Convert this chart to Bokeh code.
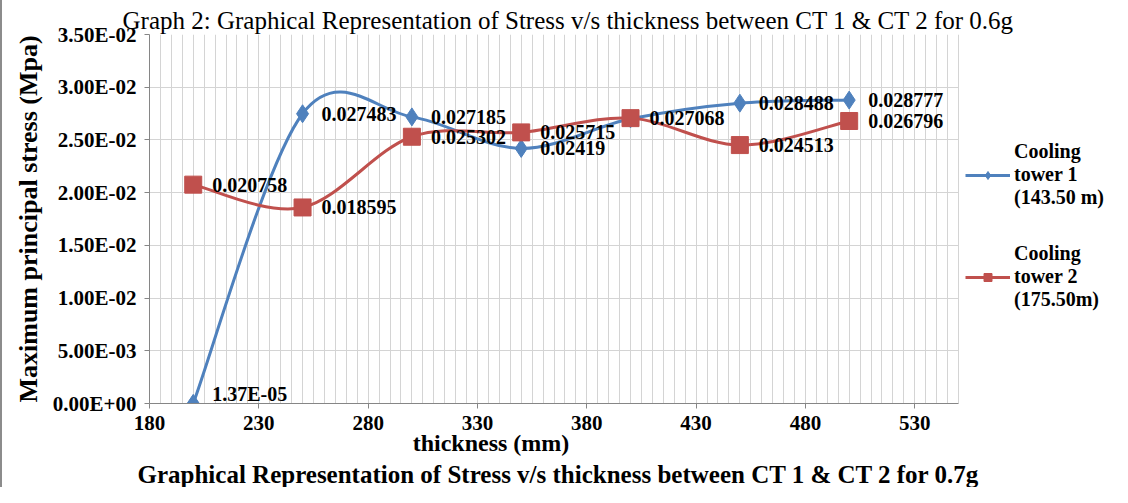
from bokeh.plotting import figure
from bokeh.models import (FixedTicker, Legend, LegendItem, Title, Range1d,
                          ColumnDataSource, LabelSet)
from bokeh.embed import file_html
from bokeh.resources import INLINE

# ---------------- data ----------------
thickness = [200, 250, 300, 350, 400, 450, 500]
ct1_stress = [1.37e-05, 0.027483, 0.027185, 0.02419, 0.0270, 0.028488, 0.028777]
ct2_stress = [0.020758, 0.018595, 0.025302, 0.025715, 0.027068, 0.024513, 0.026796]
ct1_labels = ["1.37E-05", "0.027483", "0.027185", "0.02419", "", "0.028488", "0.028777"]
ct2_labels = ["0.020758", "0.018595", "0.025302", "0.025715", "0.027068", "0.024513", "0.026796"]
series_names = ["Cooling\ntower 1\n(143.50 m)", "Cooling\ntower 2\n(175.50m)"]
x_axis_min, x_axis_max = 180, 550
y_axis_min, y_axis_max = 0.0, 0.035
x_ticks = [180, 230, 280, 330, 380, 430, 480, 530]
y_ticks = [0.0, 0.005, 0.01, 0.015, 0.02, 0.025, 0.03, 0.035]
y_tick_labels = ["0.00E+00", "5.00E-03", "1.00E-02", "1.50E-02",
                 "2.00E-02", "2.50E-02", "3.00E-02", "3.50E-02"]
top_title = "Graph 2: Graphical Representation of Stress v/s thickness between CT 1 & CT 2 for 0.6g"
caption = "Graphical Representation of Stress v/s thickness between CT 1 & CT 2 for 0.7g"
x_label = "thickness (mm)"
y_label = "Maximum principal stress (Mpa)"

BLUE = "#4F81BD"
RED = "#C0504D"
SERIF = "Liberation Serif"
GRID = "#d4d4d4"
AXIS = "#868686"

# layout (pixels)
W, H = 1112, 487
LEFT, TOP = 147, 34
PLOT_W = 809          # width of the gridded plot area
FRAME_W = W - LEFT    # frame also hosts the legend on the right


def smooth_segments(xs, ys):
    """Cubic Bezier control points for a smoothed line through the points."""
    pts = list(zip(xs, ys))
    n = len(pts)
    d = {k: [] for k in ("x0", "y0", "x1", "y1", "cx0", "cy0", "cx1", "cy1")}
    for i in range(n - 1):
        p0 = pts[i - 1] if i > 0 else pts[i]
        p1 = pts[i]
        p2 = pts[i + 1]
        p3 = pts[i + 2] if i + 2 < n else pts[i + 1]
        d["x0"].append(p1[0]); d["y0"].append(p1[1])
        d["x1"].append(p2[0]); d["y1"].append(p2[1])
        d["cx0"].append(p1[0] + (p2[0] - p0[0]) / 6.0)
        d["cy0"].append(p1[1] + (p2[1] - p0[1]) / 6.0)
        d["cx1"].append(p2[0] - (p3[0] - p1[0]) / 6.0)
        d["cy1"].append(p2[1] - (p3[1] - p1[1]) / 6.0)
    return ColumnDataSource(d)


x_end = x_axis_min + (x_axis_max - x_axis_min) * FRAME_W / PLOT_W

p = figure(width=W, height=H,
           x_range=Range1d(x_axis_min, x_end), y_range=Range1d(y_axis_min, y_axis_max),
           output_backend="svg", toolbar_location=None,
           min_border_left=LEFT, min_border_right=0,
           min_border_top=TOP, min_border_bottom=80)
p.background_fill_color = "white"
p.border_fill_color = "white"
p.outline_line_color = None
p.styles = {"border-left": "2px solid #8c8c8c"}

# title (top), centred over the gridded area as in the reference
p.title.text = top_title
p.title.align = "left"
p.title.offset = -27
p.title.text_font = SERIF
p.title.text_font_style = "normal"
p.title.text_font_size = "25px"
p.title.text_color = "black"
p.title.standoff = 2

# caption (bottom)
p.add_layout(Title(text=caption, align="left", offset=-12, text_font=SERIF,
                   text_font_style="bold", text_font_size="25px",
                   text_color="black", standoff=0), "below")

# axes
p.xaxis.ticker = FixedTicker(ticks=x_ticks,
                             minor_ticks=list(range(x_axis_min, x_axis_max + 1, 5)))
p.yaxis.ticker = FixedTicker(ticks=y_ticks)
p.yaxis.major_label_overrides = dict(zip(y_ticks, y_tick_labels))
p.xaxis.bounds = (x_axis_min, x_axis_max)
for ax in (p.xaxis, p.yaxis):
    ax.axis_line_color = AXIS
    ax.major_tick_line_color = AXIS
    ax.major_tick_out = 5
    ax.major_tick_in = 0
    ax.minor_tick_line_color = None
    ax.major_label_text_font = SERIF
    ax.major_label_text_font_style = "bold"
    ax.major_label_text_font_size = "21px"
    ax.major_label_text_color = "black"
    ax.axis_label_text_font = SERIF
    ax.axis_label_text_font_style = "bold"
    ax.axis_label_text_color = "black"
# the x-axis title sits left of centre in the reference: pad it on the right
p.xaxis.axis_label = x_label + "\u00a0" * 47
p.yaxis.axis_label = y_label
p.xaxis.axis_label_text_font_size = "24px"
p.yaxis.axis_label_text_font_size = "26px"
p.xaxis.major_label_standoff = 7
p.yaxis.major_label_standoff = 8
p.xaxis.axis_label_standoff = -3
p.yaxis.axis_label_standoff = 7

p.xgrid.grid_line_color = GRID
p.xgrid.minor_grid_line_color = GRID
p.xgrid.cross_bounds = (y_axis_min, y_axis_max)
p.ygrid.grid_line_color = GRID
p.ygrid.cross_bounds = (x_axis_min, x_axis_max)

# series 1
s1 = smooth_segments(thickness, ct1_stress)
b1 = p.bezier(x0="x0", y0="y0", x1="x1", y1="y1", cx0="cx0", cy0="cy0",
              cx1="cx1", cy1="cy1", source=s1, line_color=BLUE, line_width=3)
m1 = p.scatter(thickness, ct1_stress, marker="diamond", size=18,
               fill_color=BLUE, line_color=BLUE)
# series 2
s2 = smooth_segments(thickness, ct2_stress)
b2 = p.bezier(x0="x0", y0="y0", x1="x1", y1="y1", cx0="cx0", cy0="cy0",
              cx1="cx1", cy1="cy1", source=s2, line_color=RED, line_width=3)
m2 = p.scatter(thickness, ct2_stress, marker="square", size=17,
               fill_color=RED, line_color=RED)

# data labels (labels that sit on the x axis are lifted so they stay inside the plot)
for ys, labs in ((ct1_stress, ct1_labels), (ct2_stress, ct2_labels)):
    lift = [9 if v < 0.001 else 0 for v in ys]
    src = ColumnDataSource(dict(x=thickness, y=ys, t=labs, dy=lift))
    p.add_layout(LabelSet(x="x", y="y", text="t", source=src, x_offset=19,
                          y_offset="dy",
                          text_align="left", text_baseline="middle",
                          text_font=SERIF, text_font_style="bold",
                          text_font_size="20px", text_color="black"))

legend = Legend(items=[LegendItem(label=series_names[0], renderers=[b1, m1]),
                       LegendItem(label=series_names[1], renderers=[b2, m2])],
                location=(PLOT_W + 7, 92), orientation="vertical",
                border_line_color=None, background_fill_alpha=0,
                glyph_width=45, glyph_height=20, label_standoff=4,
                spacing=33, padding=3, margin=0,
                label_text_font=SERIF, label_text_font_style="bold",
                label_text_font_size="20px", label_text_color="black")
p.add_layout(legend)

open("out.html", "w").write(file_html(p, INLINE))
